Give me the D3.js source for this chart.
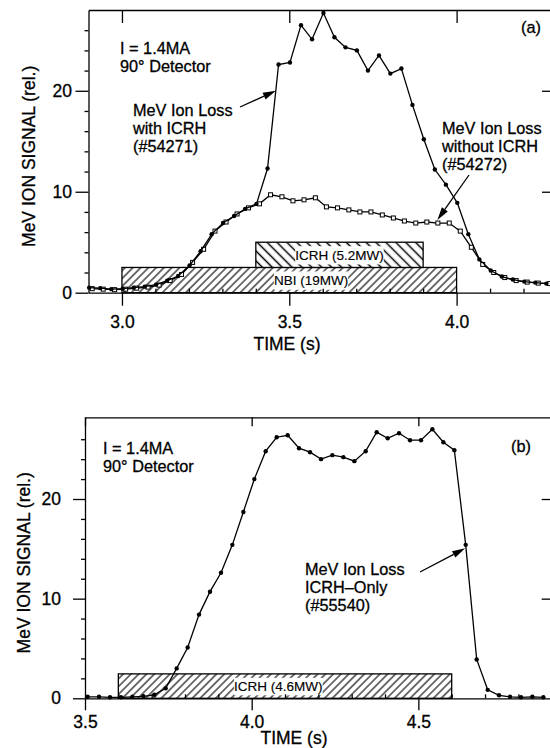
<!DOCTYPE html>
<html>
<head>
<meta charset="utf-8">
<script src="https://cdn.jsdelivr.net/npm/d3@7"></script>
<style>
  body { margin: 0; background: #fff; }
  svg { display: block; }
  text { font-family: "Liberation Sans", Arial, Helvetica, sans-serif; fill: #000; stroke: #000; stroke-width: 0.3px; }
</style>
</head>
<body>
<svg id="chart" width="550" height="748"></svg>
<script>
// ---- Panel (a): shots #54271 (with ICRH) and #54272 (without ICRH) ----
const timeWithICRH = [2.902, 2.935, 2.968, 3.002, 3.035, 3.068, 3.102, 3.135, 3.168, 3.202,
  3.235, 3.268, 3.302, 3.335, 3.368, 3.402, 3.435, 3.468, 3.502, 3.535,
  3.568, 3.602, 3.635, 3.668, 3.702, 3.735, 3.768, 3.802, 3.835, 3.868,
  3.902, 3.935, 3.968, 4.002, 4.035, 4.068, 4.102, 4.135, 4.168, 4.202,
  4.235, 4.268];
const lossWithICRH = [0.5, 0.45, 0.35, 0.4, 0.5, 0.6, 0.8, 1.2, 1.65, 2.7,
  4.1, 5.8, 6.9, 7.6, 8.3, 8.8, 12.3, 22.6, 22.8, 26.5,
  25.1, 27.7, 25.3, 24.3, 24.0, 22.0, 23.5, 21.7, 22.2, 18.6,
  15.2, 12.2, 10.7, 8.9, 5.8, 3.3, 2.2, 1.6, 1.3, 1.1,
  1.0, 0.9];

const timeWithoutICRH = [2.911, 2.944, 2.978, 3.011, 3.044, 3.078, 3.111, 3.144, 3.178, 3.211,
  3.244, 3.278, 3.311, 3.344, 3.378, 3.411, 3.444, 3.478, 3.511, 3.544,
  3.578, 3.611, 3.644, 3.678, 3.711, 3.744, 3.778, 3.811, 3.844, 3.878,
  3.911, 3.944, 3.978, 4.011, 4.044, 4.078, 4.111, 4.144, 4.178, 4.211,
  4.244, 4.278];
const lossWithoutICRH = [0.4, 0.35, 0.3, 0.35, 0.45, 0.55, 0.75, 1.2, 1.8, 3.0,
  4.3, 6.1, 7.0, 7.8, 8.4, 8.8, 9.7, 9.5, 9.1, 9.2,
  9.4, 8.5, 8.4, 8.2, 8.0, 8.0, 7.7, 7.4, 7.1, 6.9,
  7.0, 6.9, 6.9, 6.1, 4.5, 2.8, 2.0, 1.5, 1.2, 1.05,
  0.95, 0.9];

// Heating pulses in panel (a): NBI then ICRH stacked on top
const heatingLabelsA = ["NBI (19MW)", "ICRH (5.2MW)"];
const heatingStartA = [3.0, 3.4];
const heatingEndA = [4.0, 3.9];
const heatingLowA = [0, 2.5];
const heatingHighA = [2.5, 5.0];

// ---- Panel (b): shot #55540, ICRH only ----
const timeICRHOnly = [3.508, 3.542, 3.575, 3.608, 3.642, 3.675, 3.708, 3.742, 3.775, 3.808,
  3.842, 3.875, 3.908, 3.942, 3.975, 4.008, 4.042, 4.075, 4.108, 4.142,
  4.175, 4.208, 4.242, 4.275, 4.308, 4.342, 4.375, 4.408, 4.442, 4.475,
  4.508, 4.542, 4.575, 4.608, 4.642, 4.675, 4.708, 4.742, 4.775, 4.808,
  4.842, 4.875];
const lossICRHOnly = [0.15, 0.15, 0.1, 0.1, 0.15, 0.2, 0.35, 1.0, 3.0, 5.1,
  8.4, 10.7, 12.6, 15.4, 18.7, 22.0, 24.8, 26.2, 26.4, 25.1,
  24.7, 24.0, 24.4, 24.2, 23.8, 24.8, 26.7, 26.1, 26.6, 25.9,
  25.9, 27.0, 25.7, 24.9, 15.4, 3.9, 0.85, 0.3, 0.15, 0.1,
  0.15, 0.1];

const heatingLabelsB = ["ICRH (4.6MW)"];
const heatingStartB = [3.6];
const heatingEndB = [4.6];
const heatingLowB = [0];
const heatingHighB = [2.45];

// Axis ticks
const yMajorTicks = [0, 10, 20];
const yMinorTicks = [2, 4, 6, 8, 12, 14, 16, 18, 22, 24, 26];
const xMajorTicksA = [3.0, 3.5, 4.0];
const xMinorTicksA = [3.1, 3.2, 3.3, 3.4, 3.6, 3.7, 3.8, 3.9, 4.1, 4.2];
const xMajorTicksB = [3.5, 4.0, 4.5];
const xMinorTicksB = [3.6, 3.7, 3.8, 3.9, 4.1, 4.2, 4.3, 4.4, 4.6, 4.7, 4.8];

const svg = d3.select("#chart");
const defs = svg.append("defs");

// Hatch fills for the heating pulses
function hatch(id, angle, gap, width) {
  const p = defs.append("pattern")
    .attr("id", id)
    .attr("patternUnits", "userSpaceOnUse")
    .attr("width", gap).attr("height", gap)
    .attr("patternTransform", `rotate(${angle})`);
  p.append("rect").attr("width", gap).attr("height", gap).attr("fill", "#fff");
  p.append("line").attr("x1", gap / 2).attr("y1", -1).attr("x2", gap / 2).attr("y2", gap + 1)
    .attr("stroke", "#000").attr("stroke-width", width);
}
hatch("hatchFwd", 45, 5.5, 1.1);
hatch("hatchBack", -45, 7, 1.5);

const FONT = 17.5;      // tick labels and axis titles
const NOTE_FONT = 16.3; // annotation text
const NOTE_LEAD = 18.2;

function arrow(g, x1, y1, x2, y2) {
  const ang = Math.atan2(y2 - y1, x2 - x1);
  const len = 13, half = 3.6;
  const bx = x2 - len * Math.cos(ang), by = y2 - len * Math.sin(ang);
  g.append("line").attr("x1", x1).attr("y1", y1).attr("x2", bx).attr("y2", by)
    .attr("stroke", "#000").attr("stroke-width", 1.3);
  g.append("path")
    .attr("d", `M${x2},${y2}L${bx - half * Math.sin(ang)},${by + half * Math.cos(ang)}L${bx + half * Math.sin(ang)},${by - half * Math.cos(ang)}Z`)
    .attr("fill", "#000");
}

function drawPanel(cfg) {
  const g = svg.append("g");
  const x = d3.scaleLinear().domain(cfg.xDomain).range([cfg.left, cfg.right]);
  const y = d3.scaleLinear().domain(cfg.yDomain).range([cfg.bottom, cfg.top]);

  // heating pulse bars
  cfg.heat.labels.forEach((lab, i) => {
    const x0 = x(cfg.heat.start[i]), x1 = x(cfg.heat.end[i]);
    const y0 = y(cfg.heat.low[i]), y1 = y(cfg.heat.high[i]);
    g.append("rect")
      .attr("x", x0).attr("y", y1).attr("width", x1 - x0).attr("height", y0 - y1)
      .attr("fill", `url(#${cfg.heat.fills[i]})`)
      .attr("stroke", "#000").attr("stroke-width", 1.3);
    const t = g.append("text")
      .attr("x", cfg.heat.labelX[i] !== undefined ? x(cfg.heat.labelX[i]) : (x0 + x1) / 2)
      .attr("y", (y0 + y1) / 2 + 4.8)
      .attr("text-anchor", "middle")
      .attr("font-size", 13.5)
      .style("stroke-width", "0.15px")
      .text(lab);
    const bb = t.node().getBBox();
    g.insert("rect", () => t.node())
      .attr("x", bb.x).attr("y", y1 + 4).attr("width", bb.width).attr("height", y0 - y1 - 7)
      .attr("fill", "#fff");
  });

  // axes
  const fmt = d3.format(".1f");
  const bottom = g.append("g").attr("transform", `translate(0,${cfg.bottom})`)
    .call(d3.axisBottom(x).tickValues(cfg.xMajor).tickFormat(fmt)
      .tickSizeInner(cfg.xTickLen).tickSizeOuter(0).tickPadding(cfg.xPad));
  g.append("g").attr("transform", `translate(0,${cfg.bottom})`)
    .call(d3.axisTop(x).tickValues(cfg.xMinor).tickFormat("").tickSizeInner(4).tickSizeOuter(0))
    .select(".domain").remove();
  g.append("g").attr("transform", `translate(0,${cfg.top})`)
    .call(d3.axisBottom(x).tickValues(cfg.xMajor).tickFormat("").tickSizeInner(cfg.topTickLen).tickSizeOuter(0));
  const left = g.append("g").attr("transform", `translate(${cfg.left},0)`)
    .call(d3.axisLeft(y).tickValues(yMajorTicks).tickFormat(d3.format("d"))
      .tickSizeInner(cfg.yTickLen).tickSizeOuter(0).tickPadding(cfg.yPad));
  g.append("g").attr("transform", `translate(${cfg.left},0)`)
    .call(d3.axisLeft(y).tickValues(yMinorTicks).tickFormat("").tickSizeInner(4).tickSizeOuter(0))
    .select(".domain").remove();
  g.append("g").attr("transform", `translate(${cfg.right},0)`)
    .call(d3.axisRight(y).tickValues([10, 20]).tickFormat("").tickSizeInner(-cfg.rightTickLen).tickSizeOuter(0));

  g.selectAll(".domain, .tick line").attr("stroke", "#000").attr("stroke-width", 1.3);
  [bottom, left].forEach(a => a.selectAll("text")
    .attr("font-size", FONT).attr("font-family", "Liberation Sans, Arial, sans-serif").attr("fill", "#000"));

  // series
  const line = d3.line().x(d => x(d[0])).y(d => y(d[1]));
  cfg.series.forEach(s => {
    const pts = s.t.map((t, i) => [t, s.v[i]]);
    g.append("path").datum(pts).attr("d", line)
      .attr("fill", "none").attr("stroke", "#000").attr("stroke-width", 1.3);
    if (s.marker === "circle") {
      g.selectAll(null).data(pts).enter().append("circle")
        .attr("cx", d => x(d[0])).attr("cy", d => y(d[1])).attr("r", 2.2).attr("fill", "#000");
    } else {
      g.selectAll(null).data(pts).enter().append("rect")
        .attr("x", d => x(d[0]) - 2).attr("y", d => y(d[1]) - 2)
        .attr("width", 4).attr("height", 4)
        .attr("fill", "#fff").attr("stroke", "#000").attr("stroke-width", 1);
    }
  });

  // axis titles
  g.append("text")
    .attr("transform", `translate(${cfg.yTitleX},${(cfg.top + cfg.bottom) / 2 + 5}) rotate(-90)`)
    .attr("text-anchor", "middle").attr("font-size", FONT)
    .text("MeV ION SIGNAL (rel.)");
  g.append("text")
    .attr("x", cfg.xTitleX).attr("y", cfg.xTitleY)
    .attr("text-anchor", "middle").attr("font-size", FONT)
    .text("TIME (s)");

  // annotation blocks
  cfg.notes.forEach(n => {
    n.lines.forEach((ln, i) => {
      g.append("text").attr("x", n.x).attr("y", n.y + i * NOTE_LEAD)
        .attr("font-size", NOTE_FONT).text(ln);
    });
  });
  cfg.arrows.forEach(a => arrow(g, a.from[0], a.from[1], x(a.t) + a.dx, y(a.v) + a.dy));

  return { x, y };
}

// Panel (a)
drawPanel({
  xDomain: [2.9, 4.3], yDomain: [0, 28],
  left: 88.5, right: 557, top: 10, bottom: 292.7,
  xMajor: xMajorTicksA, xMinor: xMinorTicksA,
  xTickLen: 13, xPad: 10, topTickLen: 13, yTickLen: 13, yPad: 3.5, rightTickLen: 15,
  heat: {
    labels: heatingLabelsA, start: heatingStartA, end: heatingEndA,
    low: heatingLowA, high: heatingHighA,
    fills: ["hatchFwd", "hatchBack"], labelX: [3.565, undefined]
  },
  series: [
    { t: timeWithoutICRH, v: lossWithoutICRH, marker: "square" },
    { t: timeWithICRH, v: lossWithICRH, marker: "circle" }
  ],
  yTitleX: 35, xTitleX: 287, xTitleY: 350,
  notes: [
    { x: 120, y: 53.5, lines: ["I = 1.4MA", "90\u00b0 Detector"] },
    { x: 133, y: 115.5, lines: ["MeV Ion Loss", "with ICRH", "(#54271)"] },
    { x: 442, y: 134, lines: ["MeV Ion Loss", "without ICRH", "(#54272)"] },
    { x: 521, y: 33, lines: ["(a)"] }
  ],
  arrows: [
    { from: [240, 107], t: 3.46, v: 20, dx: 0, dy: 0 },
    { from: [469, 175], t: 3.944, v: 6.9, dx: -0.5, dy: -3 }
  ]
});

// Panel (b)
drawPanel({
  xDomain: [3.5, 4.9], yDomain: [0, 28.2],
  left: 85, right: 551.7, top: 417.3, bottom: 698.3,
  xMajor: xMajorTicksB, xMinor: xMinorTicksB,
  xTickLen: 12, xPad: 5.6, topTickLen: 9, yTickLen: 12, yPad: 12, rightTickLen: 10,
  heat: {
    labels: heatingLabelsB, start: heatingStartB, end: heatingEndB,
    low: heatingLowB, high: heatingHighB,
    fills: ["hatchFwd"], labelX: [4.08]
  },
  series: [
    { t: timeICRHOnly, v: lossICRHOnly, marker: "circle" }
  ],
  yTitleX: 30, xTitleX: 294, xTitleY: 744,
  notes: [
    { x: 103, y: 453.5, lines: ["I = 1.4MA", "90\u00b0 Detector"] },
    { x: 305, y: 574.5, lines: ["MeV Ion Loss", "ICRH\u2013Only", "(#55540)"] },
    { x: 511, y: 452, lines: ["(b)"] }
  ],
  arrows: [
    { from: [420, 572], t: 4.642, v: 15.4, dx: -0.5, dy: 3.5 }
  ]
});
</script>
</body>
</html>
